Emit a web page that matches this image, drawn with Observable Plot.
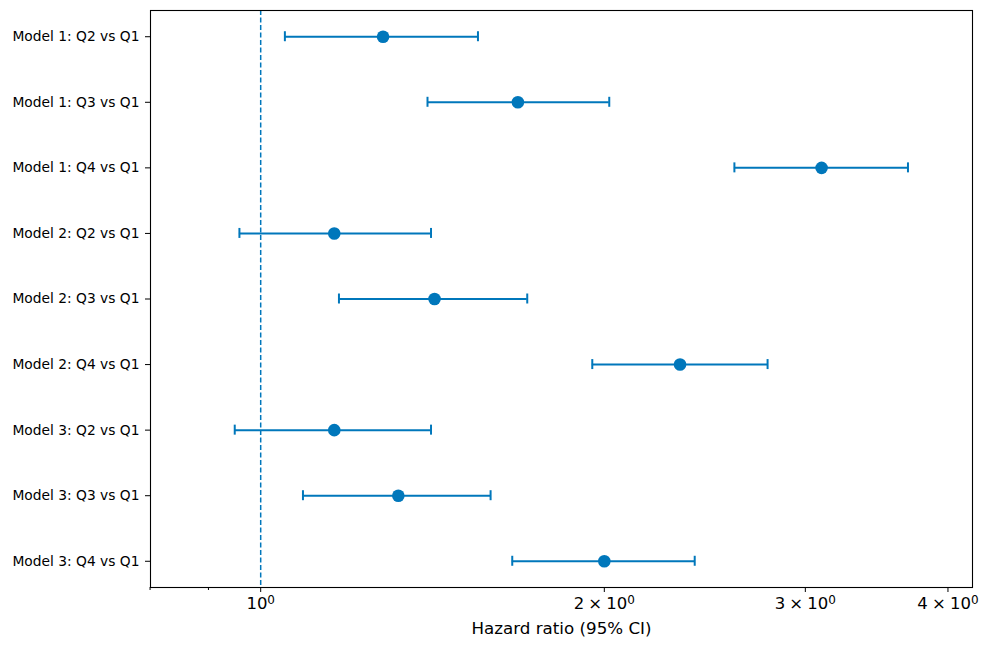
<!DOCTYPE html>
<html>
<head>
<meta charset="utf-8">
<script src="https://cdn.jsdelivr.net/npm/d3@7"></script>
<script src="https://cdn.jsdelivr.net/npm/@observablehq/plot@0.6"></script>
<style>
  html, body { margin: 0; padding: 0; background: #fff; }
  #chart svg { display: block; }
</style>
</head>
<body>
<div id="chart"></div>
<script>
const labels = [
  "Model 1: Q2 vs Q1", "Model 1: Q3 vs Q1", "Model 1: Q4 vs Q1",
  "Model 2: Q2 vs Q1", "Model 2: Q3 vs Q1", "Model 2: Q4 vs Q1",
  "Model 3: Q2 vs Q1", "Model 3: Q3 vs Q1", "Model 3: Q4 vs Q1"
];
const hr    = [1.28, 1.68, 3.10, 1.16, 1.42, 2.33, 1.16, 1.32, 2.00];
const lower = [1.05, 1.40, 2.60, 0.958, 1.171, 1.952, 0.949, 1.089, 1.661];
const upper = [1.55, 2.02, 3.69, 1.41, 1.712, 2.78, 1.41, 1.59, 2.40];
const majorTicks = [1, 2, 3, 4];
const minorTicks = [0.8, 0.9];
const refLine = [1];
const xLabel = "Hazard ratio (95% CI)";

const data = labels.map((label, i) => ({label, hr: hr[i], lo: lower[i], hi: upper[i]}));
const color = "#0077bb";
const fmt = d => d === 1 ? "10^0" : `${d}\u2005×\u200510^0`;

const chart = Plot.plot({
  width: 992,
  height: 653,
  marginLeft: 150,
  marginRight: 20,
  marginTop: 10,
  marginBottom: 66,
  style: {fontFamily: "DejaVu Sans", background: "#fff", color: "#000"},
  x: {type: "log", domain: [0.8007, 4.203]},
  y: {type: "point", domain: labels, padding: 0.4, round: false},
  marks: [
    Plot.ruleX(refLine, {stroke: color, strokeWidth: 1.5, strokeDasharray: "5,2.5"}),
    Plot.ruleY(data, {y: "label", x1: "lo", x2: "hi", stroke: color, strokeWidth: 2}),
    Plot.ruleX(data, {x: "lo", y1: "label", y2: "label", insetTop: -5, insetBottom: -5, stroke: color, strokeWidth: 2}),
    Plot.ruleX(data, {x: "hi", y1: "label", y2: "label", insetTop: -5, insetBottom: -5, stroke: color, strokeWidth: 2}),
    Plot.dot(data, {x: "hr", y: "label", r: 6.3, fill: color, stroke: null}),
    Plot.frame({stroke: "#000", strokeWidth: 1.1}),
    Plot.axisX({ticks: majorTicks, tickFormat: fmt, tickSize: 5, tickPadding: 5, fontSize: 16.5, label: null, stroke: "#000"}),
    Plot.axisX({ticks: minorTicks, tickFormat: () => "", tickSize: 3, label: null}),
    Plot.axisY({tickSize: 5, tickPadding: 6, fontSize: 13.8, label: null}),
    Plot.text([xLabel], {frameAnchor: "bottom", dy: 46, fontSize: 16.7, fill: "#000"})
  ]
});

// render "^0" as a real superscript
d3.select(chart).selectAll("text").each(function() {
  const t = d3.select(this);
  const s = t.text();
  if (!s.includes("^")) return;
  const [base, exp] = s.split("^");
  t.text("");
  t.style("font-size", "16.5px");
  t.append("tspan").style("font-size", "16.5px").text(base);
  t.append("tspan").attr("dy", "-0.42em").style("font-size", "12px").text(exp);
});

document.getElementById("chart").append(chart);
</script>
</body>
</html>
